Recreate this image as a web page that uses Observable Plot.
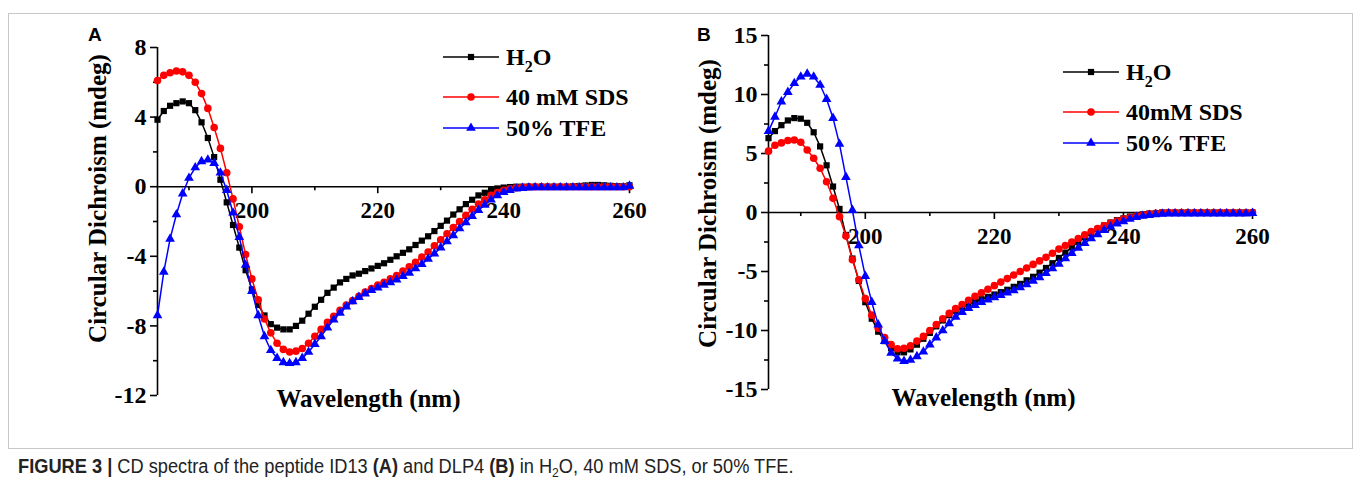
<!DOCTYPE html>
<html><head><meta charset="utf-8">
<script src="https://cdn.jsdelivr.net/npm/d3@7"></script>
<script src="https://cdn.jsdelivr.net/npm/@observablehq/plot@0.6"></script>
<style>
html,body{margin:0;padding:0;background:#fff;}
body{width:1360px;height:484px;overflow:hidden;position:relative;font-family:"Liberation Serif",serif;}
#frame{position:absolute;left:8px;top:13px;width:1345px;height:436px;border:1px solid #c8c8c8;box-sizing:border-box;}
.panel{position:absolute;top:0;}
.letter{position:absolute;font-family:"Liberation Sans",Arial,sans-serif;font-weight:bold;font-size:19px;line-height:1;}
.legend{position:absolute;font-family:"Liberation Serif",serif;font-weight:bold;font-size:24px;color:#000;}
.legend .row{position:absolute;left:0;display:flex;align-items:center;white-space:nowrap;height:30px;}
.legend .row span{margin-left:7px;line-height:1;}
.legend sub{font-size:16px;vertical-align:-7px;line-height:0;}
#caption{position:absolute;left:18px;top:455px;font-family:"Liberation Sans",Arial,sans-serif;font-size:19.5px;color:#222;white-space:nowrap;transform:scaleX(0.935);transform-origin:0 0;}
#caption sub{font-size:13px;vertical-align:-4px;line-height:0;}
</style>
</head><body>
<div id="frame"></div>
<div id="root"></div>
<div id="caption"><b>FIGURE 3 |</b> CD spectra of the peptide ID13 <b>(A)</b> and DLP4 <b>(B)</b> in H<sub>2</sub>O, 40 mM SDS, or 50% TFE.</div>
<script>
// ---- data ----
const wavelength = [185,186,187,188,189,190,191,192,193,194,195,196,197,198,199,200,201,202,203,204,205,206,207,208,209,210,211,212,213,214,215,216,217,218,219,220,221,222,223,224,225,226,227,228,229,230,231,232,233,234,235,236,237,238,239,240,241,242,243,244,245,246,247,248,249,250,251,252,253,254,255,256,257,258,259,260];
const xDomain = [185, 260];
const xMajorTicks = [200, 220, 240, 260];
const xMinorTicks = [190, 210, 230, 250];

const seriesNamesA = ["H2O", "40 mM SDS", "50% TFE"];
const seriesNamesB = ["H2O", "40mM SDS", "50% TFE"];

const A_H2O = [3.85,4.35,4.65,4.8,4.9,4.8,4.4,3.7,2.8,1.7,
  0.4,-0.9,-2.2,-3.5,-4.8,-5.9,-6.8,-7.4,-7.9,-8.1,
  -8.2,-8.2,-8.0,-7.7,-7.3,-6.9,-6.5,-6.1,-5.8,-5.5,
  -5.3,-5.1,-5.0,-4.85,-4.7,-4.55,-4.4,-4.2,-4.0,-3.8,
  -3.6,-3.35,-3.1,-2.85,-2.55,-2.25,-1.95,-1.6,-1.3,-1.0,
  -0.75,-0.5,-0.35,-0.2,-0.1,-0.05,-0.02,0,0,0,
  0,0,0,0,0,0,0.02,0.04,0.07,0.1,
  0.1,0.08,0.05,0.03,0.02,0.08];
const A_SDS = [6.1,6.4,6.55,6.65,6.6,6.4,6.0,5.35,4.5,3.4,
  2.2,0.8,-0.7,-2.3,-3.9,-5.3,-6.5,-7.6,-8.4,-9.0,
  -9.35,-9.5,-9.45,-9.3,-9.0,-8.6,-8.2,-7.8,-7.45,-7.1,
  -6.8,-6.55,-6.3,-6.05,-5.85,-5.65,-5.5,-5.3,-5.1,-4.85,
  -4.6,-4.35,-4.05,-3.75,-3.4,-3.05,-2.7,-2.35,-2.0,-1.65,
  -1.3,-1.0,-0.75,-0.5,-0.33,-0.2,-0.12,-0.06,-0.03,0,
  0,0,0,0,0,0,0,0,0,0,
  0,0,0,0,0,0];
const A_TFE = [-7.4,-4.9,-3.0,-1.6,-0.4,0.5,1.1,1.45,1.55,1.35,
  0.8,-0.2,-1.5,-2.9,-4.5,-6.0,-7.4,-8.6,-9.4,-9.85,
  -10.1,-10.15,-10.1,-9.85,-9.5,-9.05,-8.6,-8.1,-7.65,-7.25,
  -6.9,-6.6,-6.35,-6.15,-5.95,-5.8,-5.65,-5.5,-5.35,-5.15,
  -4.95,-4.7,-4.45,-4.15,-3.85,-3.5,-3.15,-2.8,-2.4,-2.05,
  -1.7,-1.35,-1.05,-0.75,-0.5,-0.32,-0.2,-0.12,-0.08,-0.06,
  -0.05,-0.05,-0.05,-0.05,-0.05,-0.05,-0.05,-0.05,-0.05,-0.05,
  -0.05,-0.05,-0.05,-0.05,-0.05,0.05];

const B_H2O = [6.3,6.9,7.4,7.8,8.0,7.95,7.6,6.8,5.6,4.0,
  2.2,0.3,-1.9,-3.9,-5.8,-7.6,-9.0,-10.1,-10.9,-11.5,
  -11.85,-11.85,-11.6,-11.2,-10.7,-10.2,-9.65,-9.15,-8.7,-8.35,
  -8.05,-7.8,-7.55,-7.35,-7.15,-6.95,-6.75,-6.55,-6.3,-6.05,
  -5.75,-5.45,-5.1,-4.7,-4.3,-3.85,-3.4,-2.95,-2.5,-2.1,
  -1.75,-1.4,-1.1,-0.85,-0.65,-0.5,-0.35,-0.25,-0.15,-0.1,
  -0.05,0,0,0,0,0,0,0,0,0,
  0,0,0,0,0,0];
const B_SDS = [5.2,5.7,5.9,6.1,6.15,5.95,5.3,4.6,3.75,2.6,
  1.2,-0.35,-2.0,-4.0,-5.7,-7.3,-8.7,-9.8,-10.6,-11.2,
  -11.55,-11.5,-11.3,-10.9,-10.5,-10.0,-9.5,-9.0,-8.55,-8.15,
  -7.8,-7.45,-7.1,-6.8,-6.5,-6.2,-5.9,-5.6,-5.3,-5.0,
  -4.7,-4.4,-4.1,-3.8,-3.45,-3.1,-2.8,-2.5,-2.2,-1.9,
  -1.62,-1.36,-1.12,-0.9,-0.72,-0.56,-0.42,-0.3,-0.2,-0.12,
  -0.06,-0.02,0,0,0,0,0,0,0,0,
  0,0,0,0,0,0];
const B_TFE = [6.9,8.1,9.4,10.2,10.95,11.5,11.75,11.5,10.8,9.6,
  8.0,5.8,3.0,0.2,-2.8,-5.4,-7.6,-9.5,-10.9,-11.9,
  -12.4,-12.6,-12.5,-12.2,-11.8,-11.2,-10.6,-10.0,-9.4,-8.85,
  -8.45,-8.1,-7.85,-7.6,-7.4,-7.2,-7.0,-6.8,-6.6,-6.35,
  -6.1,-5.8,-5.5,-5.15,-4.75,-4.35,-3.9,-3.45,-3.0,-2.6,
  -2.2,-1.85,-1.5,-1.2,-0.95,-0.75,-0.55,-0.4,-0.3,-0.22,
  -0.16,-0.12,-0.1,-0.1,-0.1,-0.1,-0.1,-0.1,-0.1,-0.1,
  -0.1,-0.1,-0.1,-0.1,-0.1,-0.05];

const yTicksA = [-12, -8, -4, 0, 4, 8];
const yMinorA = [-10, -6, -2, 2, 6];
const yTicksB = [-15, -10, -5, 0, 5, 10, 15];
const yMinorB = [-12.5, -7.5, -2.5, 2.5, 7.5, 12.5];

const yTitle = "Circular Dichroism (mdeg)";
const xTitle = "Wavelength (nm)";

// ---- styles ----
const colors = ["#000000", "#ff0000", "#0000ff"];
const symbols = ["square", "circle", "triangle"];
const radii = [3.5, 3.8, 3.6];

function makePanel(cfg) {
  const seriesMarks = cfg.series.flatMap((vals, k) => {
    const rows = wavelength.map((w, i) => ({w, v: vals[i]}));
    return [
      Plot.line(rows, {x: "w", y: "v", stroke: colors[k], strokeWidth: 1.5}),
      Plot.dot(rows, {x: "w", y: "v", fill: colors[k], stroke: "none", symbol: symbols[k], r: radii[k]})
    ];
  });
  return Plot.plot({
    width: cfg.width, height: cfg.height,
    marginLeft: cfg.ml, marginRight: cfg.mr, marginTop: cfg.mt, marginBottom: cfg.mb,
    x: {domain: xDomain, axis: null},
    y: {domain: cfg.yDomain},
    style: {fontFamily: "Liberation Serif, serif", fontWeight: "bold", fontSize: "24px", color: "#000", background: "transparent", overflow: "visible"},
    marks: [
      Plot.ruleX([xDomain[0]], {stroke: "#000", strokeWidth: 1.6}),
      Plot.axisY({ticks: cfg.yTicks, tickSize: 7, tickPadding: 4, tickFormat: d => String(d), strokeWidth: 1.6, fontSize: 24, fontWeight: "bold", label: null}),
      Plot.axisY({ticks: cfg.yMinor, tickSize: 4, tickFormat: () => "", strokeWidth: 1.6, label: null}),
      Plot.ruleY([0], {stroke: "#000", strokeWidth: 1.6}),
      Plot.ruleX(xMajorTicks, {x: d => d, y1: 0, y2: 0, insetBottom: -7, strokeWidth: 1.6}),
      Plot.ruleX(xMinorTicks, {x: d => d, y1: 0, y2: 0, insetBottom: -4, strokeWidth: 1.6}),
      Plot.text(xMajorTicks, {x: d => d, y: 0, dy: 24, text: d => String(d), fontSize: 23, fontWeight: "bold"}),
      ...seriesMarks,
      Plot.text([yTitle], {frameAnchor: "left", textAnchor: "middle", rotate: -90, dx: cfg.ytdx, dy: cfg.ytdy, text: d => d, fontSize: 25, fontWeight: "bold"}),
      Plot.text([xTitle], {frameAnchor: "bottom", textAnchor: "middle", dx: cfg.xtdx, dy: cfg.xtdy, text: d => d, fontSize: 25, fontWeight: "bold"})
    ]
  });
}

const root = document.getElementById("root");
function place(el, left) {
  const d = document.createElement("div");
  d.className = "panel";
  d.style.left = left + "px";
  d.appendChild(el);
  root.appendChild(d);
}

place(makePanel({series: [A_H2O, A_SDS, A_TFE], yDomain: [-12, 8], yTicks: yTicksA, yMinor: yMinorA,
  width: 680, height: 430, ml: 157, mr: 51, mt: 47, mb: 35, ytdx: -60, ytdy: -23, xtdx: -25, xtdy: 11}), 0);
place(makePanel({series: [B_H2O, B_SDS, B_TFE], yDomain: [-15, 15], yTicks: yTicksB, yMinor: yMinorB,
  width: 680, height: 430, ml: 88, mr: 108, mt: 35, mb: 41, ytdx: -61, ytdy: -9, xtdx: -27, xtdy: 16}), 680);

// panel letters
[["A", 88, 25], ["B", 697, 25]].forEach(([t, x, y]) => {
  const d = document.createElement("div");
  d.className = "letter"; d.textContent = t;
  d.style.left = x + "px"; d.style.top = y + "px";
  root.appendChild(d);
});

// legends
function legend(names, left, rowsY) {
  const box = document.createElement("div");
  box.className = "legend";
  box.style.left = left + "px"; box.style.top = "0px";
  names.forEach((name, k) => {
    const row = document.createElement("div");
    row.className = "row";
    row.style.top = (rowsY[k] - 15) + "px";
    const sym = d3.symbol(d3["symbol" + symbols[k][0].toUpperCase() + symbols[k].slice(1)], Math.PI * radii[k] * radii[k])();
    row.innerHTML = `<svg width="56" height="30"><line x1="0" x2="56" y1="15" y2="15" stroke="${colors[k]}" stroke-width="1.6"/><path d="${sym}" transform="translate(28,15)" fill="${colors[k]}"/></svg><span>${name === "H2O" ? "H<sub>2</sub>O" : name}</span>`;
    box.appendChild(row);
  });
  root.appendChild(box);
}
legend(seriesNamesA, 443, [57, 97, 128]);
legend(seriesNamesB, 1063, [72, 112, 143]);
</script>
</body></html>
